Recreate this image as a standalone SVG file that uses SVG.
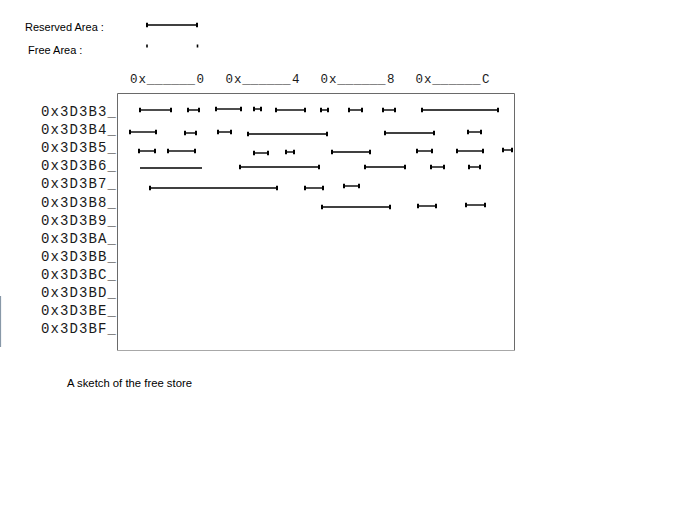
<svg xmlns="http://www.w3.org/2000/svg" width="700" height="525" viewBox="0 0 700 525">
<defs>
<style>
.lbl{font-family:"Liberation Sans",Arial,sans-serif;font-size:11px;fill:#000}
.cap{font-family:"Liberation Sans",Arial,sans-serif;font-size:11.3px;fill:#000}
.hdr{font-family:"Liberation Mono","Courier New",monospace;font-size:12.5px;letter-spacing:0.9px;fill:#1a1a1a}
.us{font-size:13.4px;letter-spacing:0}
.row{font-family:"Liberation Mono","Courier New",monospace;font-size:14px;letter-spacing:1.1px;fill:#1a1a1a}
.seg{stroke:#000;stroke-width:1.4;fill:none;marker-start:url(#cap);marker-end:url(#cap)}
.plain{stroke:#000;stroke-width:1.4;fill:none}
</style>
<marker id="cap" markerUnits="userSpaceOnUse" markerWidth="4" markerHeight="8" viewBox="0 0 4 8" refX="2" refY="4" orient="0">
<path d="M2 1.8V6.2" stroke="#000" stroke-width="2"/>
</marker>
</defs>
<rect width="700" height="525" fill="#fff"/>

<g id="legend">
<text class="lbl" x="25" y="31">Reserved Area :</text>
<path class="seg" d="M147 25H197"/>
<text class="lbl" x="28" y="54">Free Area :</text>
<path d="M147 44.5V47.5M197.5 44.5V47.5" stroke="#000" stroke-width="1.6"/>
</g>

<g id="header">
<text class="hdr" x="130" y="83">0x<tspan class="us">______</tspan><tspan dx="1.5">0</tspan></text>
<text class="hdr" x="225.5" y="83">0x<tspan class="us">______</tspan><tspan dx="1.5">4</tspan></text>
<text class="hdr" x="320.5" y="83">0x<tspan class="us">______</tspan><tspan dx="1.5">8</tspan></text>
<text class="hdr" x="415.5" y="83">0x<tspan class="us">______</tspan><tspan dx="1.5">C</tspan></text>
</g>

<g id="frame">
<path d="M117.5 351V93.5H514.5V351" fill="none" stroke="#6a6a6a" stroke-width="1"/>
<path d="M117 350.5H515" stroke="#a8a8a8" stroke-width="1"/>
<path d="M0.5 296V347" stroke="#8898a8" stroke-width="1.2"/>
</g>

<g id="rows">
<text class="row" x="41" y="116">0x3D3B3_</text>
<text class="row" x="41" y="134.1">0x3D3B4_</text>
<text class="row" x="41" y="152.2">0x3D3B5_</text>
<text class="row" x="41" y="170.3">0x3D3B6_</text>
<text class="row" x="41" y="188.4">0x3D3B7_</text>
<text class="row" x="41" y="206.5">0x3D3B8_</text>
<text class="row" x="41" y="224.6">0x3D3B9_</text>
<text class="row" x="41" y="242.7">0x3D3BA_</text>
<text class="row" x="41" y="260.8">0x3D3BB_</text>
<text class="row" x="41" y="278.9">0x3D3BC_</text>
<text class="row" x="41" y="297">0x3D3BD_</text>
<text class="row" x="41" y="315.1">0x3D3BE_</text>
<text class="row" x="41" y="333.2">0x3D3BF_</text>
</g>

<g id="segments">
<path class="seg" d="M140 110H171"/>
<path class="seg" d="M188 110H199"/>
<path class="seg" d="M216 109H241"/>
<path class="seg" d="M254 109H261"/>
<path class="seg" d="M276 110H305"/>
<path class="seg" d="M321 110H328"/>
<path class="seg" d="M349 110H362"/>
<path class="seg" d="M383 110H395"/>
<path class="seg" d="M422 110H498"/>

<path class="seg" d="M130 132H156"/>
<path class="seg" d="M185 133H196"/>
<path class="seg" d="M218 132H231"/>
<path class="seg" d="M248 134H327"/>
<path class="seg" d="M385 133H434"/>
<path class="seg" d="M468 132H481"/>

<path class="seg" d="M139 151H155"/>
<path class="seg" d="M168 151H195"/>
<path class="seg" d="M254 153H268"/>
<path class="seg" d="M286 152H294"/>
<path class="seg" d="M332 152H370"/>
<path class="seg" d="M417 151H432"/>
<path class="seg" d="M457 151H483"/>
<path class="seg" d="M503 150H512"/>

<path class="plain" d="M140 168H202"/>
<path class="seg" d="M240 167H319"/>
<path class="seg" d="M365 167H405"/>
<path class="seg" d="M431 167H444"/>
<path class="seg" d="M469 167H480"/>

<path class="seg" d="M150 188H277"/>
<path class="seg" d="M305 188H323"/>
<path class="seg" d="M344 186H359"/>

<path class="seg" d="M322 207H390"/>
<path class="seg" d="M418 206H436"/>
<path class="seg" d="M466 205H485"/>
</g>

<g id="caption">
<text class="cap" x="67" y="387">A sketch of the free store</text>
</g>
</svg>
